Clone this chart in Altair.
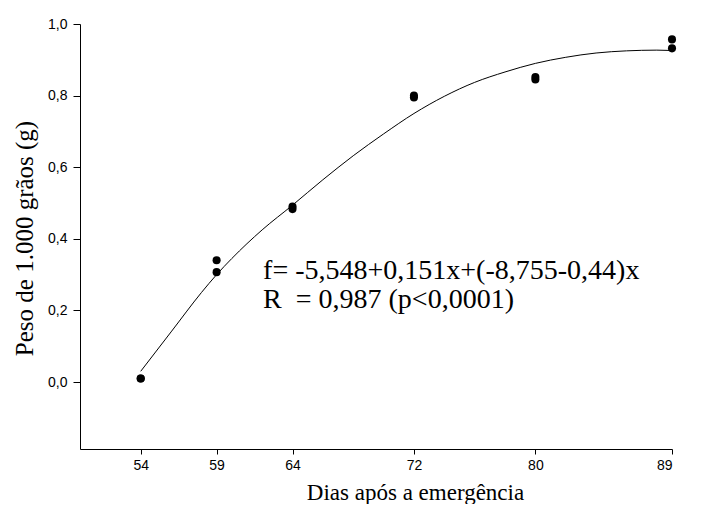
import altair as alt
import pandas as pd

# Observed data (days after emergence, weight of 1000 grains)
obs_days = [54, 54, 59, 59, 64, 64, 72, 72, 80, 80, 89, 89]
obs_weight = [0.010, 0.010, 0.340, 0.307, 0.490, 0.483, 0.800, 0.795, 0.852, 0.845, 0.957, 0.932]

# Fitted curve
fit_days = [54, 56, 58, 59, 60, 62, 64, 66, 68, 70, 72, 74, 76, 78, 80, 82, 84, 86, 88, 89]
fit_weight = [0.030, 0.140, 0.250, 0.300, 0.345, 0.425, 0.494, 0.565, 0.632, 0.693,
              0.750, 0.798, 0.837, 0.866, 0.890, 0.907, 0.919, 0.925, 0.927, 0.926]

x_ticks = [54, 59, 64, 72, 80, 89]
y_ticks = [0.0, 0.2, 0.4, 0.6, 0.8, 1.0]

eq_text = "f= -5,548+0,151x+(-8,755-0,44)x\nR\u00a0\u00a0= 0,987 (p<0,0001)"
eq_x = [62.06]
eq_y = [0.288]

obs = pd.DataFrame({"dias": obs_days, "peso": obs_weight})
fit = pd.DataFrame({"dias": fit_days, "peso": fit_weight})
ann = pd.DataFrame({"dias": eq_x, "peso": eq_y, "txt": [eq_text]})

xscale = alt.Scale(domain=[50, 89], nice=False, zero=False)
yscale = alt.Scale(domain=[-0.187, 1.0], nice=False, zero=False)

xaxis = alt.Axis(
    values=x_ticks, title="Dias após a emergência", grid=False,
    domainColor="black", tickColor="black", tickSize=5, labelPadding=4,
    labelFont="Liberation Sans", labelFontSize=14, labelColor="black",
    titleFont="Liberation Serif", titleFontSize=23, titleFontWeight="normal",
    titleColor="black", titleX=335, titleY=50, titleAlign="center",
    titleBaseline="alphabetic",
)
yaxis = alt.Axis(
    values=y_ticks, title="Peso de 1.000 grãos (g)", grid=False,
    labelExpr="replace(format(datum.value, '.1f'), '.', ',')",
    domainColor="black", tickColor="black", tickSize=7, labelPadding=6,
    labelFont="Liberation Sans", labelFontSize=14, labelColor="black",
    titleFont="Liberation Serif", titleFontSize=25, titleFontWeight="normal",
    titleColor="black", titleAngle=270, titleX=-48, titleY=214,
    titleAlign="center", titleBaseline="alphabetic",
)

base_x = alt.X("dias:Q", scale=xscale, axis=xaxis)
base_y = alt.Y("peso:Q", scale=yscale, axis=yaxis)

line = alt.Chart(fit).mark_line(color="black", strokeWidth=1, interpolate="monotone").encode(
    x=base_x, y=base_y
)
points = alt.Chart(obs).mark_circle(color="black", size=65, opacity=1).encode(
    x=alt.X("dias:Q", scale=xscale), y=alt.Y("peso:Q", scale=yscale)
)
text = alt.Chart(ann).mark_text(
    font="Liberation Serif", fontSize=28, align="left", baseline="alphabetic",
    color="black", lineBreak="\n", lineHeight=29
).encode(
    x=alt.X("dias:Q", scale=xscale), y=alt.Y("peso:Q", scale=yscale), text="txt:N"
)

chart = alt.layer(line, points, text).properties(
    width=592, height=425,
    autosize=alt.AutoSizeParams(type="none"),
    padding={"left": 72, "top": 16, "right": 22, "bottom": 55},
    background="white",
).configure_view(stroke=None)

chart.save("out.html", embed_options={"renderer": "svg", "actions": False})
